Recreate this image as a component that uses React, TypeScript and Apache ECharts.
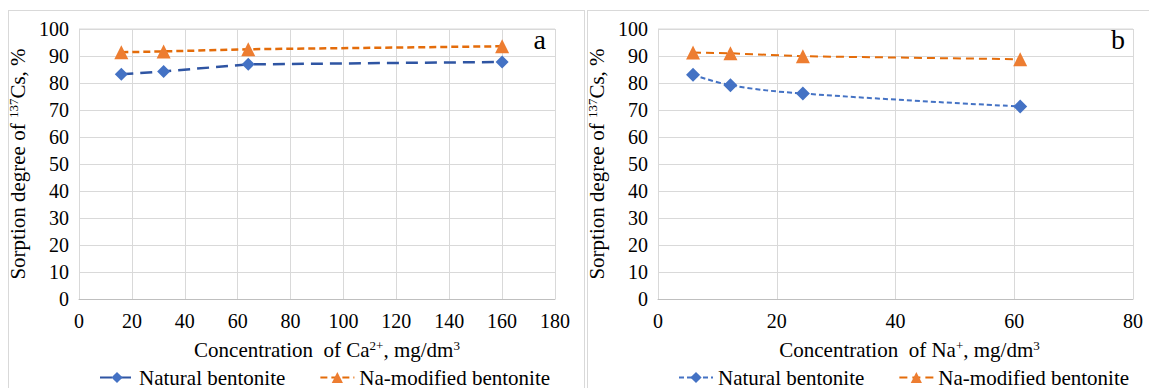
import React, { useEffect, useRef } from "react";
import * as echarts from "echarts";

const caX = [16, 32, 64, 160];
const caNatural = [83.2, 84.3, 86.9, 87.8];
const caNaMod = [91.4, 91.7, 92.5, 93.6];

const naX = [5.9, 12.2, 24.4, 61];
const naNatural = [83.1, 79.2, 76.1, 71.3];
const naNaMod = [91.3, 91.0, 89.9, 88.8];

const yTicks = { min: 0, max: 100, interval: 10 };
const caAxis = { min: 0, max: 180, interval: 20 };
const naAxis = { min: 0, max: 80, interval: 20 };

const FONT = "'Liberation Serif', 'Times New Roman', serif";

function pairs(xs: number[], ys: number[]) {
  return xs.map((x, i) => [x, ys[i]]);
}

const richName = {
  t: { fontFamily: FONT, fontSize: 21, color: "#000", lineHeight: 22 },
  s: { fontFamily: FONT, fontSize: 13, color: "#000", lineHeight: 12, verticalAlign: "top" },
};

function makeOption(panel: "a" | "b") {
  const isA = panel === "a";
  const xs = isA ? caX : naX;
  const nat = isA ? caNatural : naNatural;
  const mod = isA ? caNaMod : naNaMod;
  const xa = isA ? caAxis : naAxis;
  const gridColor = "#d9d9d9";
  const gw = isA ? 476 : 475;
  return {
    animation: false,
    textStyle: { fontFamily: FONT, fontSize: 20, color: "#000" },
    grid: { left: 70, top: 18, width: gw, height: 270, containLabel: false, outerBoundsMode: "none" },
    legend: {
      bottom: 3,
      left: 85,
      itemWidth: 34,
      itemHeight: 14,
      itemGap: 34,
      textStyle: { fontFamily: FONT, fontSize: 21, color: "#000" },
      data: ["Natural bentonite", "Na-modified bentonite"],
    },
    xAxis: {
      type: "value",
      min: xa.min,
      max: xa.max,
      interval: xa.interval,
      name: isA
        ? "{t|Concentration  of Ca}{s|2+}{t|, mg/dm}{s|3}"
        : "{t|Concentration  of Na}{s|+}{t|, mg/dm}{s|3}",
      nameLocation: "middle",
      nameGap: 40,
      nameTextStyle: {
        fontFamily: FONT,
        fontSize: 21,
        rich: richName,
        padding: isA ? [0, 0, 0, 20] : [0, 0, 0, 28],
      },
      axisLine: { show: true, lineStyle: { color: "#bfbfbf", width: 1 } },
      axisTick: { show: false },
      axisLabel: { margin: 12, fontFamily: FONT, fontSize: 20, color: "#000" },
      splitLine: { show: true, lineStyle: { color: gridColor, width: 1 } },
    },
    yAxis: {
      type: "value",
      min: yTicks.min,
      max: yTicks.max,
      interval: yTicks.interval,
      name: "{t|Sorption degree of }{s|137}{t|Cs, %}",
      nameLocation: "middle",
      nameGap: 38,
      nameRotate: 90,
      nameTextStyle: { fontFamily: FONT, fontSize: 21, rich: richName },
      axisLine: { show: false },
      axisTick: { show: false },
      axisLabel: { margin: 10, fontFamily: FONT, fontSize: 20, color: "#000" },
      splitLine: { show: true, lineStyle: { color: gridColor, width: 1 } },
    },
    graphic: [
      {
        type: "text",
        right: 38,
        top: 14,
        style: { text: panel, fontFamily: FONT, fontSize: 28, fill: "#000" },
      },
      {
        type: "line",
        shape: { x1: 70, y1: 18, x2: 70 + gw, y2: 18 },
        style: { stroke: gridColor, lineWidth: 1 },
      },
    ],
    series: [
      {
        name: "Natural bentonite",
        type: "line",
        smooth: isA ? false : 0.4,
        data: pairs(xs, nat),
        symbol: "diamond",
        symbolSize: isA ? 13 : 14,
        itemStyle: { color: "#4472c4" },
        lineStyle: isA
          ? { color: "#2f55a3", width: 2.5, type: [12, 7] }
          : { color: "#4472c4", width: 2, type: [5, 3] },
        z: 3,
      },
      {
        name: "Na-modified bentonite",
        type: "line",
        data: pairs(xs, mod),
        symbol: "triangle",
        symbolSize: 14,
        itemStyle: { color: "#ed7d31" },
        lineStyle: isA
          ? { color: "#e46c0a", width: 2.5, type: [7, 4] }
          : { color: "#e46c0a", width: 2, type: [8, 5] },
        z: 3,
      },
    ],
  };
}

function Panel({ panel, left }: { panel: "a" | "b"; left: number }) {
  const ref = useRef<HTMLDivElement>(null);
  useEffect(() => {
    if (!ref.current) return;
    const chart = echarts.init(ref.current, undefined, { renderer: "svg" });
    chart.setOption(makeOption(panel) as any);
    return () => chart.dispose();
  }, [panel]);
  return (
    <div
      style={{
        position: "absolute",
        left,
        top: 0,
        width: 575,
        height: 385,
        border: "1px solid #d9d9d9",
        background: "#fff",
      }}
    >
      <div ref={ref} style={{ width: 575, height: 385 }} />
    </div>
  );
}

export default function App() {
  return (
    <div style={{ position: "relative", width: 1141, height: 380, marginTop: 2 }}>
      <Panel panel="a" left={0} />
      <Panel panel="b" left={579} />
    </div>
  );
}
